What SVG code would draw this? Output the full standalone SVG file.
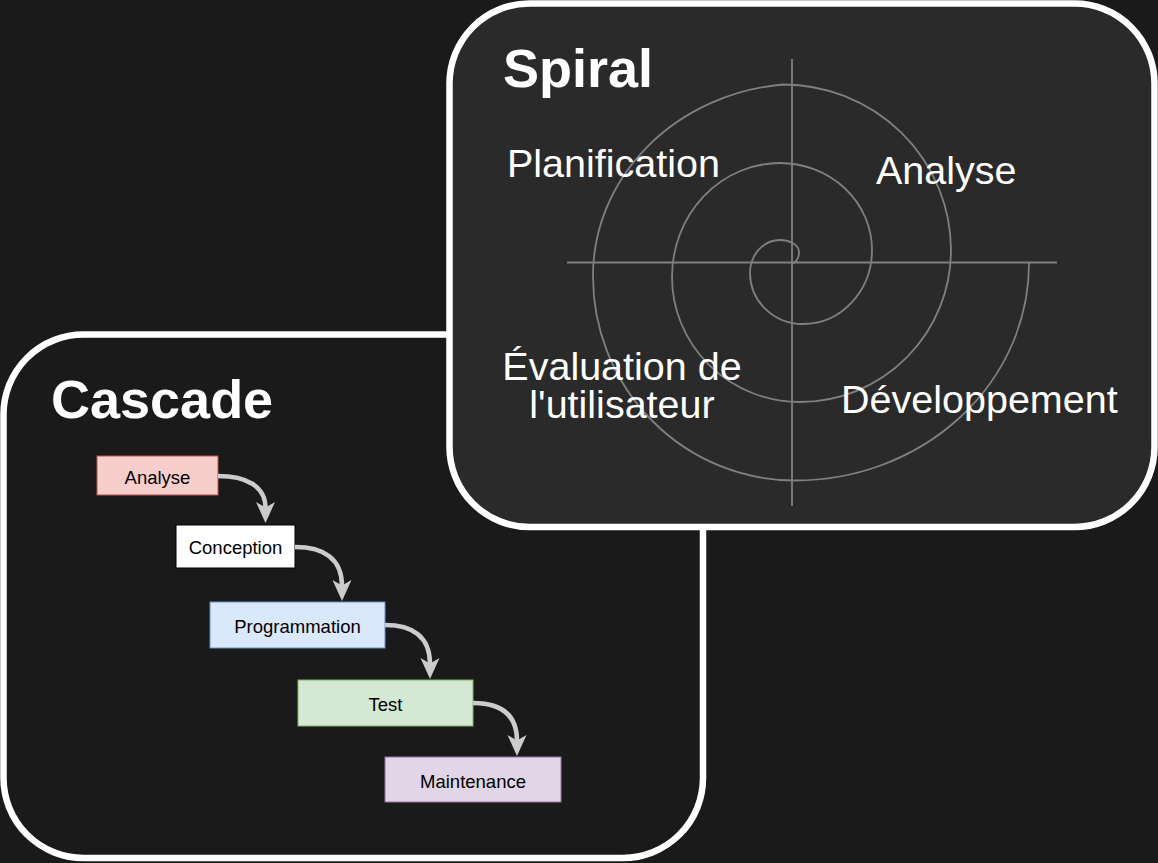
<svg xmlns="http://www.w3.org/2000/svg" width="1158" height="863" viewBox="0 0 1158 863">
<style>
.frame{stroke:#ffffff;stroke-width:6.5}
.title{font-family:"Liberation Sans",Arial,sans-serif;font-weight:bold;font-size:54px;fill:#ffffff}
.lbl{font-family:"Liberation Sans",Arial,sans-serif;font-size:39.5px;fill:#ffffff}
.step{font-family:"Liberation Sans",Arial,sans-serif;font-size:18.5px;fill:#000000;text-anchor:middle}
.sp{fill:none;stroke:#808080;stroke-width:1.8}
.conn{fill:none;stroke:#cccccc;stroke-width:4.5}
.head{fill:#cccccc}
</style>
<rect width="1158" height="863" fill="#1a1a1a"/>
<g id="cascade">
<rect class="frame" x="3.5" y="334.5" width="699.5" height="523.5" rx="80" fill="#1a1a1a"/>
<text class="title" x="51" y="418">Cascade</text>
</g>
<g id="spiral">
<rect class="frame" x="449.5" y="3.5" width="705" height="523.5" rx="80" fill="#2a2a2a"/>
<text class="title" x="503" y="87">Spiral</text>
<line class="sp" x1="567" y1="262.5" x2="1057" y2="262.5"/>
<line class="sp" x1="792" y1="59" x2="792" y2="506"/>
<path class="sp" d="M1029,263 A234,217 0 0 1 795,480.5 A202,204 0 0 1 593,276.5 A210,192 0 0 1 783,84.5 A168,166 0 0 1 951,250 A151,152 0 0 1 800,402 A128,125 0 0 1 672,277 A108,114 0 0 1 780,163 A92,87 0 0 1 872,250 A69,74 0 0 1 803,324 A53,51 0 0 1 750,273 A30,33 0 0 1 780,240 A19,12 0 0 1 799,252 A7,11 0 0 1 793,263"/>
<text class="lbl" x="507" y="177">Planification</text>
<text class="lbl" x="876" y="183.5">Analyse</text>
<text class="lbl" x="622" y="380" text-anchor="middle">Évaluation de</text>
<text class="lbl" x="622" y="418" text-anchor="middle">l'utilisateur</text>
<text class="lbl" x="841" y="413">Développement</text>
</g>
<g id="step-analyse">
<rect x="97" y="456" width="121" height="39" fill="#f8cecc" stroke="#b85450"/>
<text class="step" x="157.5" y="484">Analyse</text>
</g>
<g id="step-conception">
<rect x="176" y="525" width="119" height="43" fill="#ffffff" stroke="#000000"/>
<text class="step" x="235.5" y="554">Conception</text>
</g>
<g id="step-programmation">
<rect x="210" y="602" width="175" height="46" fill="#dae8fc" stroke="#6c8ebf"/>
<text class="step" x="297.5" y="632.5">Programmation</text>
</g>
<g id="step-test">
<rect x="298" y="680" width="175" height="46" fill="#d5e8d4" stroke="#82b366"/>
<text class="step" x="385.5" y="710.5">Test</text>
</g>
<g id="step-maintenance">
<rect x="385" y="757" width="176" height="45" fill="#e1d5e7" stroke="#9673a6"/>
<text class="step" x="473" y="787.5">Maintenance</text>
</g>
<g id="connectors">
<path class="conn" d="M218,476 C246,476 265.5,486 265.5,508"/>
<polygon class="head" points="265.5,523 256,502 265.5,507.5 275,502"/>
<path class="conn" d="M295,547 C323,547 342,558 342,586"/>
<polygon class="head" points="342,601 332.5,580 342,585.5 351.5,580"/>
<path class="conn" d="M385,625 C412,625 430,636 430,664"/>
<polygon class="head" points="430,679 420.5,658 430,663.5 439.5,658"/>
<path class="conn" d="M473,703 C500,703 517,714 517,741"/>
<polygon class="head" points="517,756 507.5,735 517,740.5 526.5,735"/>
</g>
</svg>
